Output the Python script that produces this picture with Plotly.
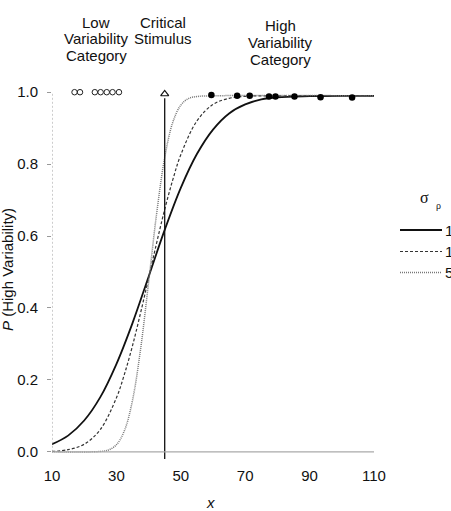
import plotly.graph_objects as go

# ---- data ----
x_s15 = [10, 15, 20, 25, 30, 35, 40, 45, 50, 55, 60, 65, 70, 75, 80, 90, 100, 110]
p_s15 = [0.021, 0.045, 0.087, 0.152, 0.244, 0.358, 0.487, 0.617, 0.734, 0.828,
         0.896, 0.941, 0.966, 0.980, 0.986, 0.989, 0.99, 0.99]
x_s10 = [10, 15, 20, 25, 30, 32.5, 35, 37.5, 40, 42.5, 45, 47.5, 50, 55, 60, 65, 70, 80, 110]
p_s10 = [0.001, 0.006, 0.021, 0.062, 0.150, 0.216, 0.295, 0.386, 0.483, 0.581,
         0.674, 0.756, 0.826, 0.920, 0.966, 0.983, 0.9885, 0.99, 0.99]
x_s5 = [10, 25, 27.5, 30, 32.5, 35, 37.5, 40, 42.5, 45, 47.5, 50, 52.5, 55, 60, 110]
p_s5 = [0.0, 0.001, 0.005, 0.0195, 0.059, 0.143, 0.285, 0.471, 0.663, 0.818,
        0.916, 0.964, 0.983, 0.988, 0.99, 0.99]

low_x = [17, 18.7, 23.3, 25.1, 27, 28.8, 30.8]
low_p = [1.0, 1.0, 1.0, 1.0, 1.0, 1.0, 1.0]
high_x = [59.5, 67.5, 71.4, 77.4, 79.4, 85.3, 93.4, 103.2]
high_p = [0.992, 0.99, 0.99, 0.988, 0.988, 0.988, 0.986, 0.985]
critical_x = 45
critical_p = 0.995

x_ticks = [10, 30, 50, 70, 90, 110]
y_ticks = [0.0, 0.2, 0.4, 0.6, 0.8, 1.0]
legend_labels = ["15", "10", "5"]

# ---- layout geometry (pixels) ----
W, H = 451, 511
L, R, T, B = 52, 77, 85, 52
PW, PH = W - L - R, H - T - B

def px(xp):
    return (xp - L) / PW

def py(yp):
    return (H - B - yp) / PH

FONT = "Liberation Sans, Arial, sans-serif"

fig = go.Figure()

fig.add_trace(go.Scatter(x=x_s15, y=p_s15, mode="lines", line_shape="spline",
                         line=dict(color="#111111", width=1.8), hoverinfo="skip"))
fig.add_trace(go.Scatter(x=x_s10, y=p_s10, mode="lines", line_shape="spline",
                         line=dict(color="#333333", width=1.2, dash="3px,2px"), hoverinfo="skip"))
fig.add_trace(go.Scatter(x=x_s5, y=p_s5, mode="lines", line_shape="spline",
                         line=dict(color="#777777", width=1.5, dash="1px,1px"), hoverinfo="skip"))

fig.add_trace(go.Scatter(x=low_x, y=low_p, mode="markers", cliponaxis=False,
                         marker=dict(symbol="circle-open", size=5.5, color="#222",
                                     line=dict(width=1, color="#222"))))
fig.add_trace(go.Scatter(x=high_x, y=high_p, mode="markers", cliponaxis=False,
                         marker=dict(symbol="circle", size=6.5, color="#000")))

# critical stimulus line and marker
fig.add_shape(type="line", x0=critical_x, x1=critical_x, y0=-0.02, y1=critical_p - 0.012,
              xref="x", yref="y", line=dict(color="#111", width=1.3))
fig.add_trace(go.Scatter(x=[critical_x], y=[critical_p], mode="markers", cliponaxis=False,
                         marker=dict(symbol="triangle-up-open", size=7, color="#111",
                                     line=dict(width=1.2, color="#111"))))

# axis lines
fig.add_shape(type="line", x0=x_ticks[0], x1=x_ticks[-1], y0=0, y1=0, xref="x", yref="y",
              line=dict(color="#aaaaaa", width=1.2))
fig.add_shape(type="line", x0=x_ticks[0], x1=x_ticks[0], y0=0, y1=1.0, xref="x", yref="y",
              line=dict(color="#999999", width=1, dash="2px,2px"))

ann = []
def text(t, xp, yp, size=15, **kw):
    ann.append(dict(text=t, x=px(xp), y=py(yp), xref="paper", yref="paper",
                    showarrow=False, xanchor=kw.pop("xanchor", "center"),
                    yanchor=kw.pop("yanchor", "middle"),
                    font=dict(family=kw.pop("family", FONT), size=size, color="#111"), **kw))

text("Low", 96, 22)
text("Variability", 96, 39)
text("Category", 96, 56)
text("Critical", 163, 22)
text("Stimulus", 163, 39)
text("High", 280, 25)
text("Variability", 280, 42.5)
text("Category", 280, 59.5)

text("<i>P</i> (High Variability)", 7, 270, textangle=-90)
text("<i>x</i>", 210, 502)

# legend (manual)
text("σ", 425, 197, size=16, family="Liberation Serif, serif")
text("ρ", 438, 205, size=10, family="Liberation Serif, serif")
leg_y = [230, 251.5, 272.5]
leg_styles = [dict(color="#111111", width=1.8),
              dict(color="#333333", width=1.2, dash="3px,2px"),
              dict(color="#777777", width=1.5, dash="1px,1px")]
for lab, yy, st in zip(legend_labels, leg_y, leg_styles):
    fig.add_shape(type="line", x0=px(400), x1=px(442), y0=py(yy), y1=py(yy),
                  xref="paper", yref="paper", line=st)
    text(lab, 443, yy, size=15, xanchor="left")

fig.update_layout(
    width=W, height=H, margin=dict(l=L, r=R, t=T, b=B),
    paper_bgcolor="white", plot_bgcolor="white", showlegend=False,
    annotations=ann,
    font=dict(family=FONT, size=14, color="#111"),
    xaxis=dict(range=[10, 110], tickvals=x_ticks, ticktext=[str(v) for v in x_ticks],
               showgrid=False, zeroline=False, showline=False,
               ticks="outside", ticklen=0, ticklabelstandoff=3,
               tickfont=dict(size=15, family=FONT, color="#111")),
    yaxis=dict(range=[-0.02, 1.02], tickvals=y_ticks, tickformat=".1f",
               showgrid=False, zeroline=False, showline=False,
               ticks="outside", ticklen=4, tickcolor="#999", ticklabelstandoff=6,
               tickfont=dict(size=15, family=FONT, color="#111")),
)

fig.write_html("out.html")
